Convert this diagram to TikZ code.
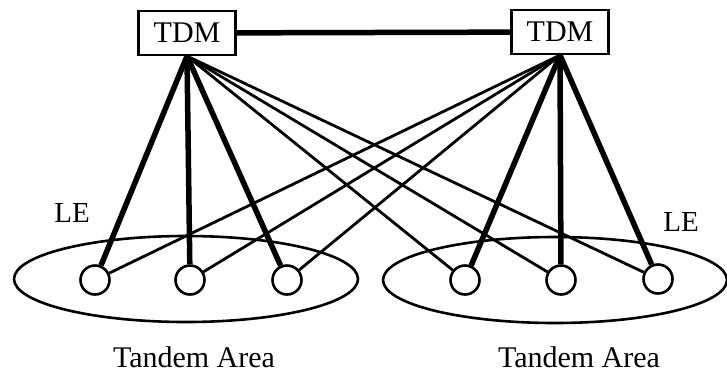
\documentclass[tikz,border=0pt]{standalone}
\usepackage{fontspec}
\setmainfont{Liberation Serif}
\usetikzlibrary{shapes.geometric}
\begin{document}
\begin{tikzpicture}[x=1pt,y=-1pt,
  tdm/.style={draw,line width=2.2pt,minimum width=97pt,minimum height=44pt,inner sep=0pt,
    font=\fontsize{30}{36}\selectfont},
  station/.style={draw,circle,line width=2.6pt,minimum size=29pt,inner sep=0pt},
  area/.style={draw,ellipse,line width=2.6pt,minimum width=344pt,minimum height=86pt,inner sep=0pt},
  trunk/.style={line width=5.5pt},
  crosslink/.style={line width=2.8pt},
  lbl/.style={font=\fontsize{29}{34}\selectfont,inner sep=0pt},
  arealbl/.style={font=\fontsize{30}{36}\selectfont,inner sep=0pt,anchor=base}]
\useasboundingbox (0,0) rectangle (727,378);

% tandem switches
\node[tdm] (tl) at (187,33) {TDM};
\node[tdm] (tr) at (560,32) {TDM};
\draw[trunk] (tl) -- (tr);

% tandem areas
\node[area] (al) at (186,279) {};
\node[area] (ar) at (555,280) {};

% local exchanges
\node[station] (l1) at (95,280) {};
\node[station] (l2) at (190,280) {};
\node[station] (l3) at (287,280) {};
\node[station] (r1) at (465,280) {};
\node[station] (r2) at (561,280) {};
\node[station] (r3) at (658,279) {};

% home trunks
\foreach \n in {l1,l2,l3} \draw[trunk] (tl.south) -- (\n);
\foreach \n in {r1,r2,r3} \draw[trunk] (tr.south) -- (\n);
% cross trunks
\foreach \n in {r1,r2,r3} \draw[crosslink] (tl.south) -- (\n);
\foreach \n in {l1,l2,l3} \draw[crosslink] (tr.south) -- (\n);

% labels
\node[lbl] (lel) at (72,213) {LE};
\node[lbl] (ler) at (681,222) {LE};
\node[arealbl] (tal) at (194,367) {Tandem Area};
\node[arealbl] (tar) at (579,367) {Tandem Area};
\end{tikzpicture}
\end{document}
